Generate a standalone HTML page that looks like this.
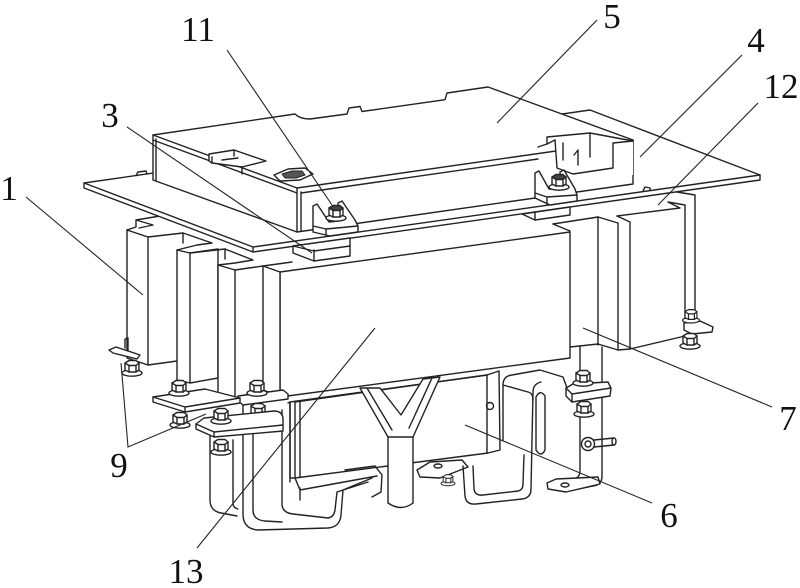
<!DOCTYPE html>
<html><head><meta charset="utf-8"><style>
html,body{margin:0;padding:0;background:#fff;}
svg{display:block;}
text{font-family:"Liberation Serif","DejaVu Serif",serif;font-size:35px;fill:#111;}
</style></head><body>
<svg width="800" height="588" viewBox="0 0 800 588" xmlns="http://www.w3.org/2000/svg">
<defs>
<g id="nut">
 <ellipse cx="0" cy="5" rx="10" ry="3.2" fill="#fff"/>
 <path d="M-7,-5 L-7,2 L-3,4 L4,4 L7,2 L7,-5 Z" fill="#fff"/>
 <path d="M-7,-5 L-3,-7.5 L4,-7.5 L7,-5 L4,-2.5 L-3,-2.5 Z" fill="#fff"/>
 <path d="M-3,-2.5 V4 M4,-2.5 V4"/>
</g>
<g id="nutd">
 <ellipse cx="0" cy="5" rx="10" ry="3.2" fill="#fff"/>
 <path d="M-7,-5 L-7,2 L-3,4 L4,4 L7,2 L7,-5 Z" fill="#fff"/>
 <path d="M-7,-5 L-3,-7.5 L4,-7.5 L7,-5 L4,-2.5 L-3,-2.5 Z" fill="#444"/>
 <path d="M-3,-2.5 V4 M4,-2.5 V4"/>
</g>
</defs>
<g fill="none" stroke="#222" stroke-width="1.4" stroke-linejoin="round" stroke-linecap="round">

<!-- far right block and bars D/E -->
<path d="M598,217 L618,223 V350"/>
<path d="M617,216 L630,222 V349"/>
<path d="M617,216 L680,208 L668,202 L685,205 V322"/>
<path d="M677,192 L695,195 V318"/>
<path d="M570,347 L598,344 L618,350 L630,349 L685,336"/>
<path d="M598,217 V345"/>
<path d="M553,224 L598,217"/>

<!-- big block (13) -->
<path fill="#fff" d="M280,272 L570,232 L570,358 L280,397 Z"/>
<path d="M553,224 L570,231"/>

<!-- left bars (1) -->
<path d="M127,230 V358 L148,365 L177,361"/>
<path d="M148,237 V365"/>
<path d="M127,230 L148,237 L183,233 V243"/>
<path d="M127,230 L136,227 V220 L160,216"/>
<path d="M136,220 L153,225 L139,228"/>
<path d="M183,233 L212,243 L197,245 L177,250"/>
<path fill="#fff" d="M177,250 L190,253 L218,249 L218,378 L190,383 L177,380 Z"/>
<path d="M190,253 V383"/>
<path d="M190,253 L225,249 V259"/>
<path d="M225,249 L253,260 L235,263 L218,265"/>
<path fill="#fff" d="M218,265 L235,270 L263,266 L280,272 L280,396 L263,390 L235,398 L218,393 Z"/>
<path d="M235,270 V398 M263,266 V390"/>
<path d="M263,266 L292,262"/>

<!-- top plate (4) -->
<path fill="#fff" d="M84,183 L590,110 L760,175 L760,180 L253,252 L84,188 Z"/>
<path d="M84,183 L253,247 L760,175 M253,247 V252"/>
<path d="M136,175.6 L138,172 L146,171 L147,174"/>
<path d="M643,191 L645,187 L650,188 L650,190"/>

<!-- spacers -->
<path fill="#fff" d="M293,246 V253 L314,261 L350,256 V238 Z"/>
<path d="M314,261 V250 M293,246 L314,251 L350,246"/>
<path fill="#fff" d="M522,214 L535,220 L570,215 V207 Z"/>
<path d="M535,220 V212"/>

<!-- box (5) -->
<path fill="#fff" d="M153,135 L295,114 Q300,119 310,119 L347,114 L349,108 L360,106.5 L362,111.5 L445,99.7 L447,93 L488,87 L633,140 L633,184 L297,232 L153,180 Z"/>
<path d="M153,135 L297,188 L633,140"/>
<path d="M153,140 L297,193 M301,193 L538,159"/>
<path d="M297,188 V232 M301,192 V231 M156,139 V181"/>
<!-- top connectors -->
<path fill="#fff" d="M209,161 L209,154 L234,150 L266,161 L242,167 L212,163 Z"/>
<path d="M234,150 V156 M242,167 V174 M222,160 L238,158 M212,163 L212,157"/>
<path fill="#fff" d="M274,175 L288,169 L305,168 L313,174 L300,180 L280,181 Z"/>
<path fill="#555" stroke-width="1" d="M282,174 L292,171 L302,171 L305,175 L296,178 L285,178 Z"/>
<!-- socket -->
<path fill="#fff" stroke="none" d="M538,147 L547,144 L547,137 L590,133 L633,141 L633,175 L573,180 L557,168 L555,140 Z"/>
<path d="M538,147 L547,144 L547,137 L590,133 L633,141"/>
<path d="M555,140 L557,168 L573,174 L613,168 L613,143 L633,141"/>
<path d="M590,133 V157 M563,143 V160 M574,155 L578,150 V165 M547,144 L555,140"/>
<!-- nut brackets -->
<path fill="#fff" d="M313,232 V206 L317,204 L329,222 L338,221 L338,203 L342,201 L355,220 L358,226 V232 L330,236 Z"/>
<path d="M326,229 L358,226 M326,229 V235 M313,226 L326,229"/>
<use href="#nutd" transform="translate(336,213)"/>
<path fill="#fff" d="M535,198 V173 L539,171 L549,189 L560,189 L560,172 L564,170 L575,189 L577,195 V201 L550,205 Z"/>
<path d="M547,197 L577,195 M547,197 V204 M535,193 L547,197"/>
<use href="#nutd" transform="translate(559,182)"/>

<!-- housing (6) -->
<path fill="#fff" d="M290,402 L487,375 L499,371 L500,450 L488,453 L295,478 L290,478 Z"/>
<path d="M295,402 V478 M300,401 V477 M487,375 V453 M288,403 L290,402"/>
<path d="M295,478 L300,490 L377,476 M300,488 V500"/>
<circle cx="490" cy="406" r="3.5"/>
<path d="M295,402 L487,375"/>

<!-- Y bracket -->
<path fill="#fff" d="M360,388 L380,388 L401,415 L423,379 L440,377 L413,437 L413,503 Q401,512 388,503 L388,437 Z"/>
<path d="M367,388 L392,430 M432,378 L409,428 M388,437 L413,437"/>

<!-- left lower straps -->
<path d="M243,403 V514 Q243,529 258,530 L328,528 Q340,527 341,515 L343,490 L372,478"/>
<path d="M253,405 V510 Q253,520 265,521 L282,522"/>
<path d="M282,410 V505 Q283,513 293,514 L328,518 Q334,517 335,510 L337,492 L368,482"/>
<path d="M290,403 V482"/>
<path d="M210,432 V500 Q210,511 221,513 L237,516"/>
<path d="M233,440 V503 Q233,508 238,509"/>
<path d="M345,470 L375,466 L382,475 L381,492 L372,497"/>

<!-- left tab & plates -->
<path fill="#fff" d="M109,350 L116,347 L140,355 L137,359 L113,353 Z"/>
<path d="M125,348 V339 L128,338 V350"/>
<use href="#nut" transform="translate(132,368)"/>
<path fill="#fff" d="M238,396 L283,390 L288,394 L288,399 L243,405 L238,401 Z"/>
<path fill="#fff" d="M153,397 L205,389 L240,398 L240,403 L185,412 L153,402 Z"/>
<path d="M153,397 L185,407 L240,398 M185,407 V412"/>
<use href="#nut" transform="translate(179,388)"/>
<use href="#nut" transform="translate(180,420)"/>
<use href="#nut" transform="translate(257,388)"/>
<use href="#nut" transform="translate(258,411)"/>
<path fill="#fff" d="M196,424 L204,418 L274,411 Q282,411 283,418 L283,431 L214,437 L196,429 Z"/>
<path d="M196,424 L214,432 L283,425 M214,432 V437"/>
<use href="#nut" transform="translate(221,416)"/>
<use href="#nut" transform="translate(221,447)"/>

<!-- center clip -->
<path fill="#fff" d="M417,470 L430,462 L462,460 L468,467 L440,478 L420,477 Z"/>
<ellipse cx="438" cy="466" rx="4" ry="2"/>
<use href="#nut" transform="translate(448,480) scale(0.7)"/>

<!-- right U strap -->
<path d="M463,466 L465,496 Q466,505 476,504 L522,499 Q531,498 531,489 L533,392 Q533,384 541,382"/>
<path d="M473,466 L474,489 Q475,496 483,495 L518,491 Q523,490 523,484 L524,455"/>
<path d="M503,440 V385 Q503,376 512,375 L540,370 L563,377 L567,388"/>
<path d="M503,385 L528,392 Q533,393 533,400"/>
<path d="M536,397 Q540,389 545,396 L545,450 Q541,458 536,450 Z"/>

<!-- right L bracket -->
<path d="M580,347 V471 Q580,478 573,479 L555,481"/>
<path d="M602,347 V476 Q602,485 593,486 L565,492"/>
<path fill="#fff" d="M547,483 L556,479 L598,477 L600,484 L566,492 L548,489 Z"/>
<ellipse cx="565" cy="485" rx="4" ry="2"/>
<path d="M594,440 L614,438 M594,447 L614,445"/>
<ellipse cx="614" cy="441.5" rx="2" ry="3.6"/>
<circle cx="588" cy="444" r="6.5" fill="#fff"/>
<circle cx="588" cy="444" r="3"/>
<path fill="#fff" d="M566,388 L573,384 L608,382 L611,388 L610,396 L572,402 L566,396 Z"/>
<path d="M566,388 L572,394 L611,388 M572,394 V402"/>
<use href="#nut" transform="translate(583,378)"/>
<use href="#nut" transform="translate(584,409)"/>

<!-- far right tab -->
<path fill="#fff" d="M684,323 L700,321 L713,327 L712,332 L692,334 L684,330 Z"/>
<use href="#nut" transform="translate(691,316) scale(0.85)"/>
<use href="#nut" transform="translate(690,341)"/>
</g>

<!-- leader lines -->
<g stroke="#222" stroke-width="1.1" fill="none">
<path d="M227,50 L332,205"/>
<path d="M597,20 L497,123"/>
<path d="M742,55 L640,157"/>
<path d="M758,103 L658,205"/>
<path d="M127,127 L312,253"/>
<path d="M26,197 L143,295"/>
<path d="M121,363 L128,447 L206,414"/>
<path d="M583,328 L772,407"/>
<path d="M465,425 L652,503"/>
<path d="M375,328 L197,548"/>
</g>

<!-- labels -->
<g text-anchor="middle">
<text x="198" y="41">11</text>
<text x="612" y="28">5</text>
<text x="756" y="52">4</text>
<text x="781" y="98">12</text>
<text x="110" y="127">3</text>
<text x="9" y="200">1</text>
<text x="119" y="477">9</text>
<text x="788" y="430">7</text>
<text x="669" y="527">6</text>
<text x="186" y="583">13</text>
</g>
</svg>
</body></html>
